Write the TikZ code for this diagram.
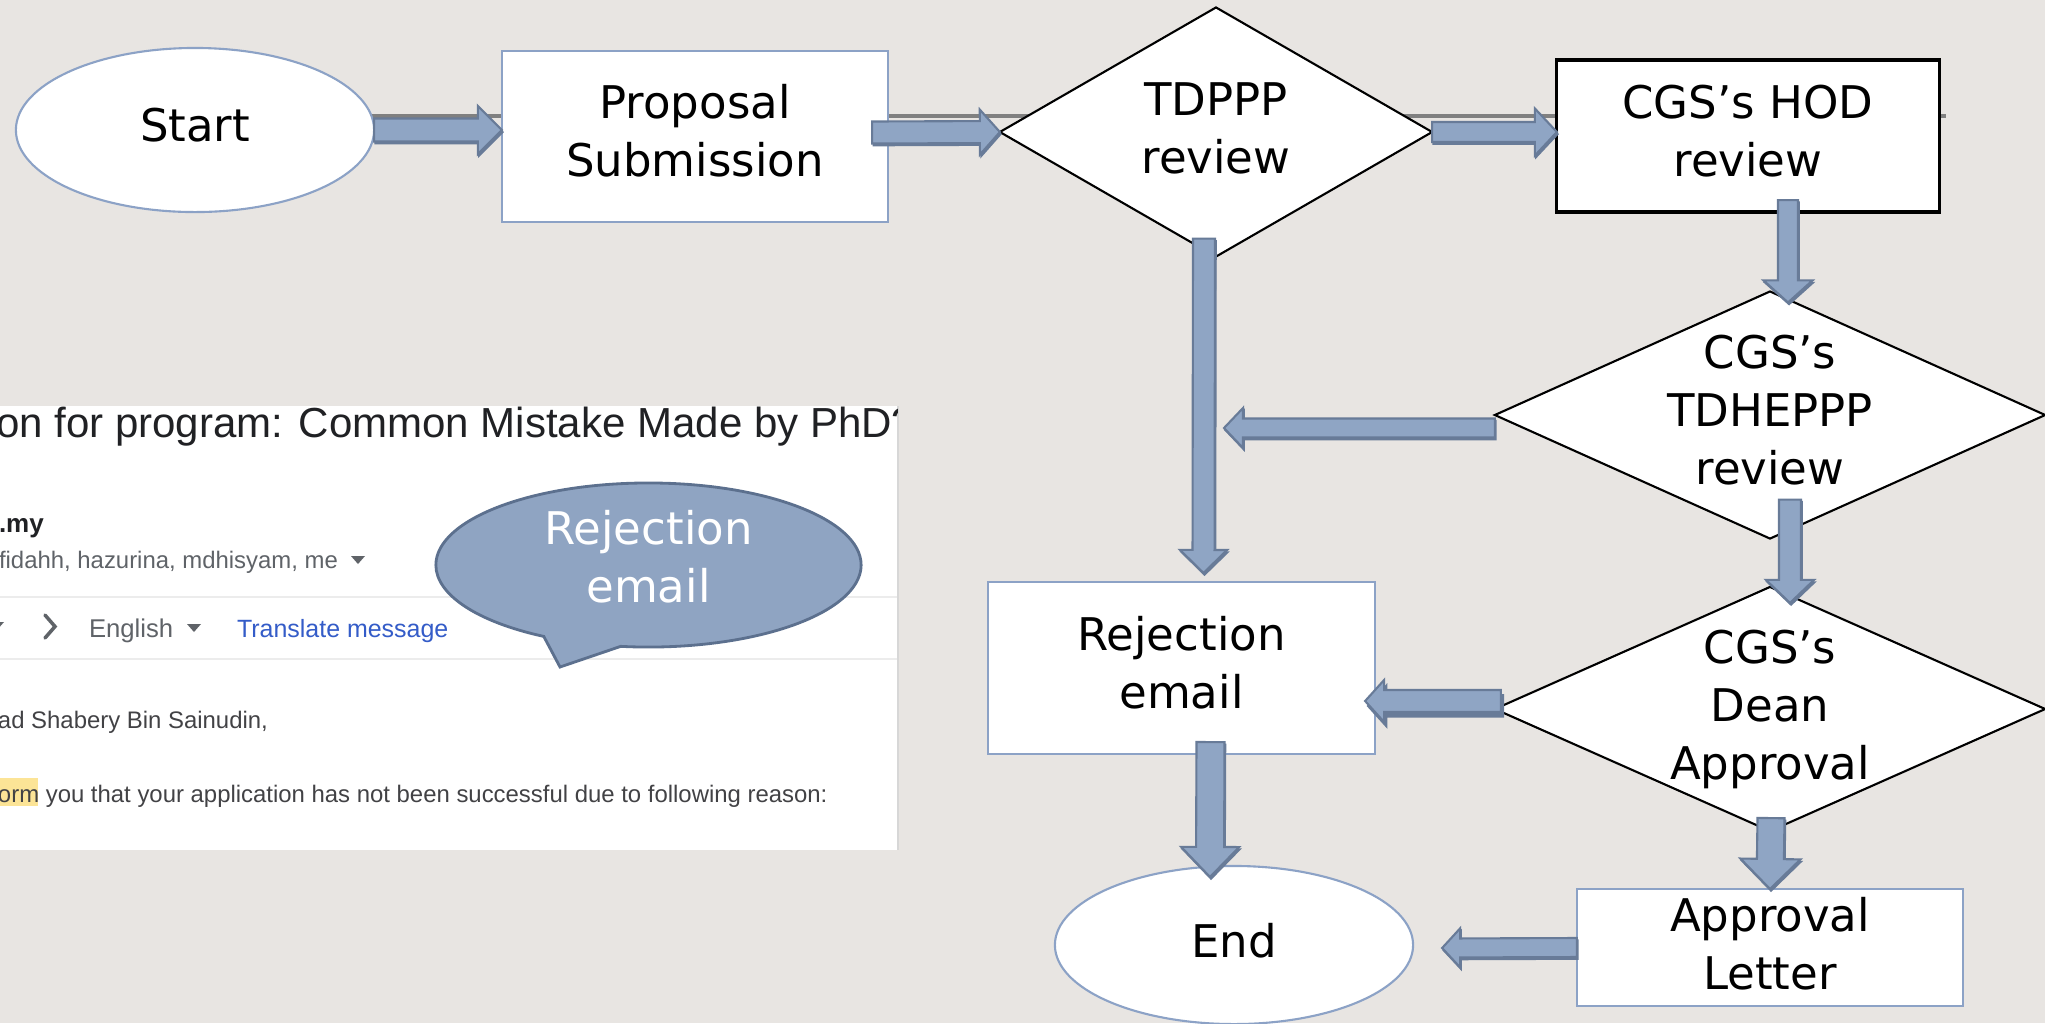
\documentclass[tikz,border=0pt]{standalone}
\usepackage{fontspec}
\setmainfont{DejaVu Sans}
\newfontfamily\mailfont{Liberation Sans}
\usetikzlibrary{shapes.geometric,shapes.callouts,calc}

\definecolor{bg}{RGB}{232,229,226}
\definecolor{arrowfill}{RGB}{143,165,196}
\definecolor{arrowline}{RGB}{104,123,152}
\definecolor{boxline}{RGB}{140,162,198}
\definecolor{guide}{RGB}{128,128,128}
\definecolor{mailgrey}{RGB}{95,99,104}
\definecolor{mailblue}{RGB}{52,92,200}
\definecolor{maildark}{RGB}{32,33,36}
\definecolor{mailrule}{RGB}{236,236,236}
\definecolor{mailedge}{RGB}{215,215,215}
\definecolor{hilite}{RGB}{252,228,150}
\definecolor{calloutfill}{RGB}{143,164,194}
\definecolor{calloutline}{RGB}{92,112,142}

% block-arrow geometry: half shaft width, half head width, head length
\tikzset{
  bshaft/.store in=\bsw, bhead/.store in=\bhw, blen/.store in=\bhl,
  bshaft=0.115cm, bhead=0.24cm, blen=0.24cm,
  bshadow/.store in=\bshd, bshadow=0.6pt,
  flowarrow/.style={
    fill=arrowfill, draw=arrowline, line width=0.6pt, line join=miter,
    preaction={fill=arrowline, draw=arrowline,
      transform canvas={xshift=0.5*\bshd, yshift=-\bshd}},
    to path={
      let \p1=(\tikztostart), \p2=(\tikztotarget),
          \n1={atan2(\y2-\y1,\x2-\x1)},
          \n2={veclen(\x2-\x1,\y2-\y1)},
          \n3={\n2-\bhl} in
      ($(\p1)+({\n1+90}:\bsw)$)
      -- ($(\p1)+(\n1:{\n3*1pt})+({\n1+90}:\bsw)$)
      -- ($(\p1)+(\n1:{\n3*1pt})+({\n1+90}:\bhw)$)
      -- (\p2)
      -- ($(\p1)+(\n1:{\n3*1pt})+({\n1-90}:\bhw)$)
      -- ($(\p1)+(\n1:{\n3*1pt})+({\n1-90}:\bsw)$)
      -- ($(\p1)+({\n1-90}:\bsw)$) -- cycle}
  },
  flowtext/.style={font=\fontsize{12.8}{16.5}\selectfont, align=center, text=black,
    inner sep=0pt},
  terminal/.style={ellipse, draw=boxline, line width=0.6pt, fill=white,
    minimum width=3.58cm, minimum height=1.64cm, inner sep=0pt, outer sep=0pt},
  stepbox/.style={rectangle, draw=boxline, line width=0.6pt, fill=white,
    inner sep=0pt, outer sep=0pt},
  decision/.style={diamond, draw=black, line width=0.6pt, fill=white,
    inner sep=0pt, outer sep=0pt, minimum width=5.5cm, minimum height=2.48cm},
  mailtext/.style={anchor=base west, inner sep=0pt, outer sep=0pt,
    font=\mailfont\fontsize{6.8}{8}\selectfont},
  dropmark/.style={fill=mailgrey}
}

\begin{document}
\begin{tikzpicture}[x=0.01cm, y=-0.01cm]
\useasboundingbox (0,0) rectangle (2045,1023);
\fill[bg] (0,0) rectangle (2045,1023);

% ---------- e-mail screenshot ----------
\fill[white] (0,406) rectangle (898,850);
\draw[mailedge, line width=0.6pt] (898,406) -- (898,850);
\begin{scope}
  \clip (0,406) rectangle (897,850);
  \node[mailtext, font=\mailfont\fontsize{11.95}{14}\selectfont, text=maildark]
    (mailsubject) at (-4,437) {on for program: Common Mistake Made by PhD?};
  \node[mailtext, font=\mailfont\bfseries\fontsize{7.4}{9}\selectfont, text=maildark]
    (maildomain) at (-1,532) {.my};
  \node[mailtext, text=mailgrey] (mailto) at (-1,568) {fidahh, hazurina, mdhisyam, me};
  \fill[dropmark] (351,556) -- (365,556) -- (358,564) -- cycle;
  \fill[mailrule] (0,595.5) rectangle (897,597.5);
  \fill[mailrule] (0,658) rectangle (897,660);
  \fill[dropmark] (-10,622) -- (4,622) -- (-3,630) -- cycle;
  \draw[mailgrey, line width=1pt, line cap=round] (45,615) -- (55,626.5) -- (45,638);
  \node[mailtext, font=\mailfont\fontsize{7.3}{9}\selectfont, text=mailgrey]
    (maillang) at (89,637) {English};
  \fill[dropmark] (187,624) -- (201,624) -- (194,632) -- cycle;
  \node[mailtext, font=\mailfont\fontsize{7.1}{9}\selectfont, text=mailblue]
    (mailtranslate) at (237,637) {Translate message};
  \node[mailtext, text=maildark!85] (mailgreet) at (-2,728) {ad Shabery Bin Sainudin,};
  \fill[hilite] (0,778) rectangle (38,806);
  \node[mailtext, text=maildark!85] (mailbody) at (-2,802)
    {orm you that your application has not been successful due to following reason:};
\end{scope}

\node[ellipse callout, fill=calloutfill, draw=calloutline, line width=0.8pt,
      minimum width=4.25cm, minimum height=1.64cm, inner sep=0pt,
      callout absolute pointer={(560,667)}, callout pointer arc=22]
      (bubble) at (648.5,565) {};
\node[flowtext, text=white] (bubbletext) at ($(bubble)+(0,-8)$) {Rejection\\email};

% ---------- flowchart shapes ----------
\coordinate (guideend) at (1946,116);
\draw[guide, line width=1.4pt] (195,116) -- (guideend);

\node[terminal] (start) at (195,130) {};
\node[stepbox, minimum width=3.86cm, minimum height=1.71cm] (prop) at (695,136.5) {};
\node[decision, minimum width=4.32cm, minimum height=2.49cm] (tdppp) at (1216,132) {};
\node[stepbox, draw=black, line width=0.9pt, minimum width=3.82cm, minimum height=1.52cm]
  (hod) at (1748,136) {};
\node[decision, minimum height=2.47cm] (tdheppp) at (1770,415) {};
\node[decision, minimum height=2.44cm] (dean) at (1770,709) {};
\node[stepbox, minimum width=3.87cm, minimum height=1.72cm] (rej) at (1181.5,668) {};
\node[terminal, minimum height=1.58cm] (end) at (1234,945) {};
\node[stepbox, minimum width=3.86cm, minimum height=1.17cm] (appr) at (1770,947.5) {};
\coordinate (rejmerge) at (1224,428);

% ---------- labels ----------
\node[flowtext] (starttext) at ($(start)+(0,-5)$) {Start};
\node[flowtext] (proptext) at ($(prop)+(0,-6)$) {Proposal\\Submission};
\node[flowtext] (tdppptext) at ($(tdppp)+(0,-4)$) {TDPPP\\review};
\node[flowtext] (hodtext) at ($(hod)+(0,-5)$) {CGS’s HOD\\review};
\node[flowtext] (tdhepptext) at ($(tdheppp)+(0,-5)$) {CGS’s\\TDHEPPP\\review};
\node[flowtext] (deantext) at ($(dean)+(0,0)$) {CGS’s\\Dean\\Approval};
\node[flowtext] (rejtext) at ($(rej)+(0,-5)$) {Rejection\\email};
\node[flowtext] (endtext) at ($(end)+(0,-4)$) {End};
\node[flowtext] (apprtext) at ($(appr)+(0,-4)$) {Approval\\Letter};

% ---------- block arrows ----------
\draw[flowarrow] (start.east) to (start.east -| prop.west);
\draw[flowarrow, bshaft=0.11cm, bhead=0.225cm, blen=0.2cm]
  ($(prop.east)+(-16,-4)$) to (tdppp.west);
\draw[flowarrow, bshaft=0.10cm, bhead=0.235cm, blen=0.22cm]
  (tdppp.east) to (tdppp.east -| hod.west);
\draw[flowarrow, bshaft=0.10cm, bhead=0.245cm, blen=0.22cm]
  ($(hod.south)+(40,-12)$) to ($(tdheppp.north)+(18,11)$);
\draw[flowarrow, bshaft=0.095cm, bhead=0.20cm, blen=0.19cm]
  ($(tdheppp.west)+(0,13)$) to (rejmerge);
\draw[flowarrow, bshaft=0.11cm, bhead=0.235cm, blen=0.23cm]
  ($(tdppp.south)+(-12,-18)$) to ($(rej.north)+(22,-9)$);
\draw[flowarrow, bshaft=0.11cm, bhead=0.24cm, blen=0.23cm]
  ($(tdheppp.south)+(20,-39)$) to ($(dean.north)+(20,16)$);
\draw[flowarrow, bshaft=0.11cm, bhead=0.21cm, blen=0.19cm, bshadow=1.4pt]
  ($(dean.west)+(6,-8)$) to ($(rej.east)+(-10,33)$);
\draw[flowarrow, bshaft=0.14cm, bhead=0.29cm, blen=0.30cm]
  ($(rej.south)+(29,-12)$) to ($(end.north)+(-24,11)$);
\draw[flowarrow, bshaft=0.135cm, bhead=0.30cm, blen=0.30cm]
  ($(dean.south)+(1,-13)$) to (appr.north);
\draw[flowarrow, bshaft=0.095cm, bhead=0.195cm, blen=0.18cm]
  (appr.west) to ($(end.east)+(29,3)$);
\end{tikzpicture}
\end{document}
